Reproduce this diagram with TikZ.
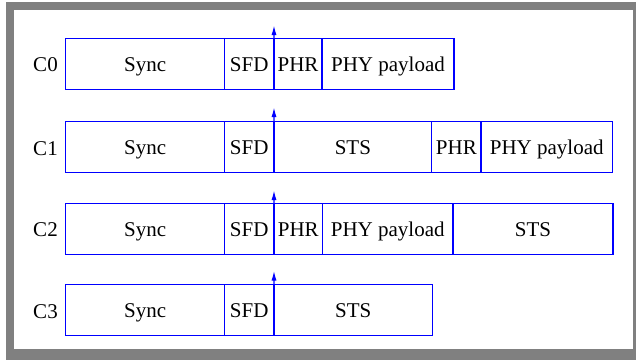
\documentclass[tikz,border=0pt]{standalone}
\usepackage{fontspec}
\setmainfont{Liberation Serif}
\newfontfamily\timesfont{Liberation Serif}
\usetikzlibrary{arrows.meta}
\definecolor{framegray}{RGB}{128,128,128}
\begin{document}
\begin{tikzpicture}[x=1pt,y=-1pt,
  cell/.style={draw=blue, line width=1.4pt, inner sep=0pt, outer sep=0pt,
    minimum height=51pt, anchor=north west, text height=16pt, text depth=1.6pt,
    font=\timesfont\fontsize{21}{24}\selectfont},
  rowlabel/.style={inner sep=0pt, text height=16pt, text depth=1.6pt,
    font=\timesfont\fontsize{21}{24}\selectfont},
  divarrow/.style={draw=blue, line width=1.4pt, -{Latex[length=10pt,width=5pt]}}
]
\useasboundingbox (0,0) rectangle (636,360);
\fill[white] (0,0) rectangle (636,360);
\fill[framegray] (6,2) rectangle (636,360);
\fill[white] (14,10) rectangle (633,349);

% C0
\node[rowlabel] (l0) at (45.5,64.5) {C0};
\node[cell, minimum width=158.8pt] (c0sync) at (65.7,38.3) {Sync};
\node[cell, minimum width=49.5pt] (c0sfd) at (c0sync.north east) {SFD};
\node[cell, minimum width=48pt] (c0phr) at (c0sfd.north east) {PHR};
\node[cell, minimum width=132pt] (c0phy) at (c0phr.north east) {PHY payload};
\coordinate (t0) at (274,25);
\draw[divarrow] (c0sfd.south east) -- (t0);

% C1
\node[rowlabel] (l1) at (45.5,148) {C1};
\node[cell, minimum width=158.8pt] (c1sync) at (65.7,121.7) {Sync};
\node[cell, minimum width=49.5pt] (c1sfd) at (c1sync.north east) {SFD};
\node[cell, minimum width=157.7pt] (c1sts) at (c1sfd.north east) {STS};
\node[cell, minimum width=49.3pt] (c1phr) at (c1sts.north east) {PHR};
\node[cell, minimum width=131.5pt] (c1phy) at (c1phr.north east) {PHY payload};
\coordinate (t1) at (274,107);
\draw[divarrow] (c1sfd.south east) -- (t1);

% C2
\node[rowlabel] (l2) at (45.5,229.5) {C2};
\node[cell, minimum width=158.8pt] (c2sync) at (65.7,203.3) {Sync};
\node[cell, minimum width=49.5pt] (c2sfd) at (c2sync.north east) {SFD};
\node[cell, minimum width=48.5pt] (c2phr) at (c2sfd.north east) {PHR};
\node[cell, minimum width=130.5pt] (c2phy) at (c2phr.north east) {PHY payload};
\node[cell, minimum width=160pt] (c2sts) at (c2phy.north east) {STS};
\coordinate (t2) at (274,190);
\draw[divarrow] (c2sfd.south east) -- (t2);

% C3
\node[rowlabel] (l3) at (45.5,311) {C3};
\node[cell, minimum width=158.8pt] (c3sync) at (65.7,284.7) {Sync};
\node[cell, minimum width=49.5pt] (c3sfd) at (c3sync.north east) {SFD};
\node[cell, minimum width=158.5pt] (c3sts) at (c3sfd.north east) {STS};
\coordinate (t3) at (274,270.5);
\draw[divarrow] (c3sfd.south east) -- (t3);
\end{tikzpicture}
\end{document}
